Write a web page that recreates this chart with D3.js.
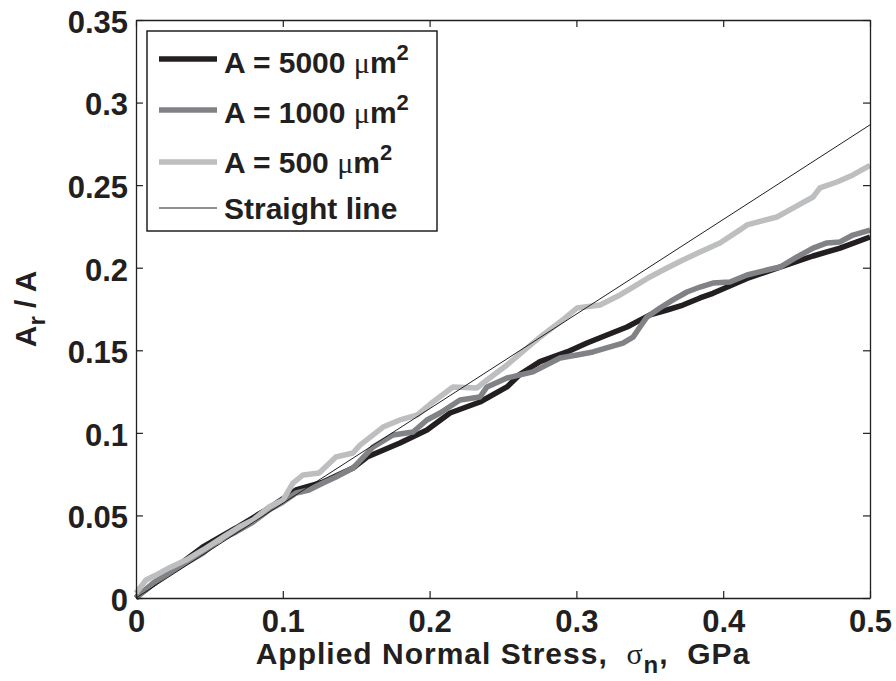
<!DOCTYPE html>
<html><head><meta charset="utf-8">
<script src="https://cdn.jsdelivr.net/npm/d3@7"></script>
<style>body{margin:0;background:#fff;} svg{display:block;}</style>
</head><body>
<svg id="c" width="896" height="681"></svg>
<script>
// ---- data ----
const xTicks = [0, 0.1, 0.2, 0.3, 0.4, 0.5];
const yTicks = [0, 0.05, 0.1, 0.15, 0.2, 0.25, 0.3, 0.35];
const xTickLabels = ["0", "0.1", "0.2", "0.3", "0.4", "0.5"];
const yTickLabels = ["0", "0.05", "0.1", "0.15", "0.2", "0.25", "0.3", "0.35"];

const a5000X = [0, 0.002, 0.0225, 0.0456, 0.0681, 0.0906, 0.109, 0.1274, 0.1478, 0.1574, 0.1798, 0.1982, 0.2139, 0.2343, 0.2527, 0.2616, 0.2752, 0.2936, 0.3072, 0.3208, 0.3345, 0.3433, 0.3501, 0.3617, 0.3726, 0.3842, 0.393, 0.4162, 0.4387, 0.4612, 0.4796, 0.5];
const a5000Y = [0, 0.0018, 0.0157, 0.0309, 0.0424, 0.0545, 0.0654, 0.0702, 0.0787, 0.0854, 0.0939, 0.1017, 0.112, 0.1187, 0.1278, 0.1355, 0.1431, 0.149, 0.1544, 0.1593, 0.1641, 0.1683, 0.1714, 0.1744, 0.1774, 0.1817, 0.1845, 0.1935, 0.2004, 0.2071, 0.2119, 0.2186];

const a1000X = [0, 0.0116, 0.0225, 0.0341, 0.0456, 0.0565, 0.0681, 0.0797, 0.0906, 0.1001, 0.109, 0.1178, 0.1274, 0.1362, 0.1478, 0.1614, 0.1751, 0.1887, 0.1982, 0.2071, 0.2207, 0.2343, 0.2391, 0.2527, 0.2704, 0.2888, 0.3004, 0.3113, 0.3229, 0.3317, 0.3386, 0.3433, 0.3481, 0.3569, 0.3658, 0.3753, 0.3842, 0.393, 0.4046, 0.4162, 0.4298, 0.4387, 0.4503, 0.4612, 0.4707, 0.4796, 0.4884, 0.5];
const a1000Y = [0, 0.0091, 0.0151, 0.0212, 0.0272, 0.0351, 0.04, 0.046, 0.0533, 0.0581, 0.0636, 0.0654, 0.0696, 0.0733, 0.0787, 0.0914, 0.0987, 0.1005, 0.1078, 0.112, 0.1199, 0.1217, 0.1278, 0.1332, 0.1369, 0.1453, 0.1471, 0.149, 0.152, 0.1544, 0.158, 0.1641, 0.1702, 0.1756, 0.1805, 0.1853, 0.1883, 0.1907, 0.1913, 0.1956, 0.1986, 0.2004, 0.2065, 0.2119, 0.215, 0.2156, 0.2198, 0.2228];

const a500X = [0, 0.0068, 0.0136, 0.0225, 0.0341, 0.0456, 0.0593, 0.0702, 0.0797, 0.0906, 0.1001, 0.1069, 0.1138, 0.1247, 0.1362, 0.1478, 0.1526, 0.1683, 0.1798, 0.1914, 0.2023, 0.2159, 0.2323, 0.2391, 0.2527, 0.2704, 0.2772, 0.2888, 0.3004, 0.3161, 0.3297, 0.3386, 0.3501, 0.3617, 0.3726, 0.3842, 0.3978, 0.4114, 0.4162, 0.4366, 0.4475, 0.4612, 0.4659, 0.4775, 0.4884, 0.5];
const a500Y = [0.003, 0.0109, 0.0139, 0.0182, 0.023, 0.0291, 0.0369, 0.043, 0.0472, 0.0551, 0.0593, 0.0696, 0.0745, 0.0757, 0.0854, 0.0878, 0.0926, 0.1035, 0.1078, 0.1108, 0.1187, 0.1278, 0.1272, 0.132, 0.1411, 0.1544, 0.1593, 0.1671, 0.1756, 0.1774, 0.1835, 0.1883, 0.1944, 0.1998, 0.2047, 0.2095, 0.215, 0.2229, 0.2259, 0.2307, 0.2361, 0.2428, 0.2483, 0.2519, 0.2562, 0.2620];

const straightX = [0, 0.5];
const straightY = [0, 0.2865];

const seriesNames = ["A = 5000", "A = 1000", "A = 500", "Straight line"];
const seriesColors = ["#231f20", "#808285", "#bcbec0", "#231f20"];
const seriesWidths = [5.5, 5.5, 5.5, 1];

// ---- layout ----
const svg = d3.select("#c");
const L = 136, R = 870, T = 20, B = 598;
const x = d3.scaleLinear().domain([0, 0.5]).range([L, R]);
const y = d3.scaleLinear().domain([0, 0.35]).range([B, T]);

const bold = "'Liberation Sans', Arial, Helvetica, sans-serif";
const serif = "'Liberation Serif', 'Times New Roman', serif";
const axisColor = "#231f20";

const series = [
  {xs: a5000X, ys: a5000Y},
  {xs: a1000X, ys: a1000Y},
  {xs: a500X, ys: a500Y},
  {xs: straightX, ys: straightY}
];

const line = d3.line().x(d => x(d[0])).y(d => y(d[1]));
const gData = svg.append("g");
series.forEach((s, i) => {
  const pts = s.xs.map((v, k) => [v, s.ys[k]]);
  gData.append("path").datum(pts)
    .attr("d", line)
    .attr("fill", "none")
    .attr("stroke", seriesColors[i])
    .attr("stroke-width", seriesWidths[i])
    .attr("stroke-linejoin", "round");
});

// axes (box with inward ticks)
const tickLen = 7;
const axB = d3.axisBottom(x).tickValues(xTicks).tickSizeInner(-tickLen).tickSizeOuter(0).tickFormat((d, i) => xTickLabels[i]);
const axT = d3.axisTop(x).tickValues(xTicks).tickSizeInner(-tickLen).tickSizeOuter(0).tickFormat("");
const axL = d3.axisLeft(y).tickValues(yTicks).tickSizeInner(-tickLen).tickSizeOuter(0).tickFormat((d, i) => yTickLabels[i]);
const axR = d3.axisRight(y).tickValues(yTicks).tickSizeInner(-tickLen).tickSizeOuter(0).tickFormat("");

function styleAxis(g) {
  g.select(".domain").attr("stroke", axisColor).attr("stroke-width", 1.3);
  g.selectAll(".tick line").attr("stroke", axisColor).attr("stroke-width", 1.2);
  g.selectAll(".tick text").attr("fill", axisColor)
    .style("font-family", bold).style("font-weight", "bold").style("font-size", "31px");
}
const gB = svg.append("g").attr("transform", `translate(0,${B})`).call(axB).call(styleAxis);
gB.selectAll(".tick text").attr("y", 12).attr("dy", "0.71em");
const gT = svg.append("g").attr("transform", `translate(0,${T})`).call(axT).call(styleAxis);
const gL = svg.append("g").attr("transform", `translate(${L},0)`).call(axL).call(styleAxis);
gL.selectAll(".tick text").attr("x", -8).attr("dy", "0.4em");
const gR = svg.append("g").attr("transform", `translate(${R},0)`).call(axR).call(styleAxis);

// x axis label
const xl = svg.append("text").attr("x", (L + R) / 2).attr("y", 664)
  .attr("text-anchor", "middle").attr("fill", axisColor)
  .style("white-space", "pre").style("letter-spacing", "1px")
  .style("font-family", bold).style("font-weight", "bold").style("font-size", "30px");
xl.append("tspan").text("Applied Normal Stress,  ");
xl.append("tspan").text("σ").style("font-family", serif).style("font-weight", "normal");
xl.append("tspan").text("n").attr("dy", 9).style("font-size", "24px");
xl.append("tspan").text(",  GPa").attr("dy", -9);

// y axis label
const yl = svg.append("text").attr("transform", `translate(36,309) rotate(-90)`)
  .attr("text-anchor", "middle").attr("fill", axisColor)
  .style("white-space", "pre")
  .style("font-family", bold).style("font-weight", "bold").style("font-size", "30px");
yl.append("tspan").text("A");
yl.append("tspan").text("r").attr("dy", 9).style("font-size", "24px");
yl.append("tspan").text(" / A").attr("dy", -9);

// legend
const lg = svg.append("g");
lg.append("rect").attr("x", 147).attr("y", 31).attr("width", 290).attr("height", 200)
  .attr("fill", "#fff").attr("stroke", axisColor).attr("stroke-width", 1.5);
const rowLineY = [59, 110, 162, 208];
const rowTextY = [73, 123, 173, 219];
seriesNames.forEach((name, i) => {
  lg.append("line").attr("x1", 159).attr("x2", 217).attr("y1", rowLineY[i]).attr("y2", rowLineY[i])
    .attr("stroke", seriesColors[i]).attr("stroke-width", seriesWidths[i]);
  const t = lg.append("text").attr("x", 224).attr("y", rowTextY[i]).attr("fill", axisColor)
    .style("white-space", "pre")
    .style("font-family", bold).style("font-weight", "bold").style("font-size", "30px");
  if (i < 3) {
    t.append("tspan").text(name + " ");
    t.append("tspan").text("μ").style("font-family", serif).style("font-weight", "normal");
    t.append("tspan").text("m");
    t.append("tspan").text("2").attr("dy", -13).style("font-size", "22px");
  } else {
    t.text(name);
  }
});
</script>
</body></html>
